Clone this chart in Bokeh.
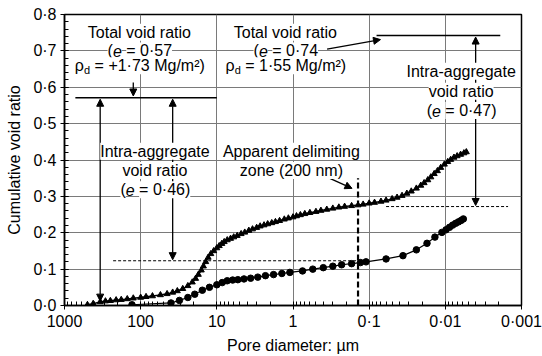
from bokeh.plotting import figure
from bokeh.models import (Range1d, FixedTicker, SingleIntervalTicker, CustomJSTickFormatter,
                          Label, Arrow, NormalHead)
from bokeh.embed import file_html
from bokeh.resources import INLINE

# ---- data: looser sample (triangles, e = 0.74) ----
tri_d = [500, 420, 340, 290, 250, 210, 180, 150, 125, 100, 85, 70, 55, 45, 38, 33, 28, 24, 21, 19,
         17.5, 16, 15, 14, 13, 12, 11, 10, 9.3, 8.6, 8, 7.3, 6.6, 6, 5.4, 4.8, 4.3, 3.8, 3.4, 3.0,
         2.7, 2.4, 2.15, 1.9, 1.7, 1.5, 1.3, 1.15, 1.0, 0.9, 0.8, 0.7, 0.6, 0.5, 0.43, 0.36, 0.3,
         0.25, 0.21, 0.17, 0.14, 0.12, 0.1, 0.085, 0.07, 0.06, 0.05, 0.043, 0.037, 0.032, 0.028,
         0.024, 0.021, 0.019, 0.017, 0.0155, 0.014, 0.0127, 0.0115, 0.0103, 0.0093, 0.0085, 0.0077,
         0.007, 0.0063, 0.0057, 0.0053]
tri_e = [0.002, 0.005, 0.010, 0.012, 0.013, 0.015, 0.016, 0.018, 0.020, 0.022, 0.024, 0.026, 0.029,
         0.032, 0.036, 0.040, 0.046, 0.054, 0.064, 0.074, 0.085, 0.097, 0.108, 0.120, 0.132, 0.142,
         0.150, 0.158, 0.164, 0.170, 0.175, 0.180, 0.184, 0.188, 0.192, 0.197, 0.201, 0.206, 0.210,
         0.214, 0.218, 0.221, 0.224, 0.227, 0.230, 0.233, 0.237, 0.240, 0.243, 0.246, 0.249, 0.252,
         0.255, 0.258, 0.261, 0.264, 0.267, 0.270, 0.272, 0.274, 0.276, 0.278, 0.281, 0.283, 0.286,
         0.289, 0.293, 0.297, 0.302, 0.308, 0.314, 0.322, 0.330, 0.337, 0.345, 0.353, 0.362, 0.370,
         0.379, 0.388, 0.395, 0.401, 0.407, 0.411, 0.415, 0.419, 0.422]

# ---- data: denser sample (circles, e = 0.57) ----
cir_d = [130, 40, 31, 24, 19.5, 15.5, 12.5, 10, 8.5, 7.3, 6.2, 5.3, 4.4, 3.6, 2.9, 2.3, 1.8, 1.4,
         1.1, 0.75, 0.55, 0.40, 0.30, 0.23, 0.17, 0.13, 0.11, 0.06, 0.036, 0.024, 0.0174, 0.0137,
         0.0111, 0.0098, 0.0088, 0.008, 0.0073, 0.0067, 0.0062, 0.0058]
cir_e = [0.002, 0.007, 0.014, 0.022, 0.031, 0.042, 0.050, 0.057, 0.063, 0.068, 0.070, 0.071, 0.073,
         0.075, 0.078, 0.082, 0.085, 0.088, 0.091, 0.095, 0.100, 0.104, 0.108, 0.112, 0.115, 0.118,
         0.120, 0.128, 0.137, 0.153, 0.171, 0.188, 0.201, 0.208, 0.215, 0.221, 0.226, 0.230, 0.234,
         0.238]

x_ticks = [1000, 100, 10, 1, 0.1, 0.01, 0.001]

FONT = "Liberation Sans"

p = figure(width=542, height=356, x_axis_type="log",
           x_range=Range1d(1000, 0.001), y_range=Range1d(0, 0.8),
           output_backend="svg", toolbar_location=None,
           min_border_left=64, min_border_right=21, min_border_top=14, min_border_bottom=51)
p.background_fill_color = "white"
p.border_fill_color = "white"
p.outline_line_color = "black"
p.outline_line_width = 1.5

minor = [m * 10.0 ** k for k in range(-3, 3) for m in range(2, 10)]
p.xaxis.ticker = FixedTicker(ticks=x_ticks, minor_ticks=minor)
p.xaxis.formatter = CustomJSTickFormatter(code="""
const k = Math.round(Math.log10(tick));
if (k >= 0) { return tick.toFixed(0); }
return tick.toFixed(-k).replace('.', '\u00b7');
""")
p.yaxis.ticker = SingleIntervalTicker(interval=0.1, num_minor_ticks=5)
p.yaxis.formatter = CustomJSTickFormatter(code="return tick.toFixed(1).replace('.', '\u00b7');")

for ax in (p.xaxis[0], p.yaxis[0]):
    ax.axis_line_color = "black"
    ax.axis_line_width = 1.5
    ax.major_tick_line_color = "black"
    ax.minor_tick_line_color = "black"
    ax.major_tick_in = 4
    ax.major_tick_out = 4
    ax.minor_tick_in = 4
    ax.minor_tick_out = 0
    ax.major_label_text_font = FONT
    ax.major_label_text_font_size = "16px"
    ax.major_label_text_color = "black"
    ax.axis_label_text_font = FONT
    ax.axis_label_text_font_size = "16px"
    ax.axis_label_text_font_style = "normal"
    ax.axis_label_text_color = "black"

p.xaxis.axis_label = "Pore diameter: \u00b5m"
p.yaxis.axis_label = "Cumulative void ratio"
p.xaxis.major_label_standoff = 3
p.yaxis.major_label_standoff = 4
p.xaxis.axis_label_standoff = 4
p.yaxis.axis_label_standoff = 7

p.grid.grid_line_color = "#7a7a7a"
p.grid.grid_line_width = 1
p.xgrid.ticker = FixedTicker(ticks=x_ticks)

# ---- curves ----
p.line(tri_d, tri_e, line_color="black", line_width=1.5)
p.scatter(tri_d, tri_e, marker="triangle", size=6, fill_color="black", line_color="black")
p.line(cir_d, cir_e, line_color="black", line_width=1.2)
p.scatter(cir_d, cir_e, marker="circle", size=6.5, fill_color="black", line_color="black")

# ---- reference lines ----
p.segment(x0=[720], y0=[0.571], x1=[10], y1=[0.571], line_color="black", line_width=1.5)
p.segment(x0=[0.08], y0=[0.742], x1=[0.0019], y1=[0.742], line_color="black", line_width=1.5)
p.segment(x0=[230], y0=[0.123], x1=[0.14], y1=[0.123], line_color="black", line_width=1,
          line_dash="3 2")
p.segment(x0=[0.06], y0=[0.272], x1=[0.0015], y1=[0.272], line_color="black", line_width=1,
          line_dash="3 2")
p.segment(x0=[0.14], y0=[0.0], x1=[0.14], y1=[0.35], line_color="black", line_width=2.2,
          line_dash="6 3")

def head():
    return NormalHead(size=7, fill_color="black", line_color="black", line_width=1)

arrows = [
    (125, 0.613, 125, 0.576, False),
    (340, 0.012, 340, 0.567, True),
    (38, 0.126, 38, 0.567, True),
    (0.357, 0.705, 0.071, 0.731, False),
    (0.004, 0.275, 0.004, 0.738, True),
    (0.437, 0.361, 0.168, 0.322, False),
]
for xs, ys, xe, ye, both in arrows:
    p.add_layout(Arrow(x_start=xs, y_start=ys, x_end=xe, y_end=ye, end=head(),
                       start=head() if both else None, line_color="black", line_width=1.3))

# ---- text annotations ----
WID = {' ': 278, '(': 333, ')': 333, '=': 584, '+': 584, '\u00b7': 278, 'e': 556, '\u03c1': 578,
       'd': 556, 'M': 833, 'g': 556, '/': 278, 'm': 833, '\u00b2': 333}
def width(t, size):
    return sum(WID.get(c, 556) for c in t) * size / 1000.0

SIZE = 16

def line(x, y, text):
    p.add_layout(Label(x=x, y=y, text=text, text_align="center", text_baseline="alphabetic",
                       text_font=FONT, text_font_size=f"{SIZE}px", text_color="black",
                       background_fill_color="white"))

def segs(x, y, parts):
    total = sum(width(t, s) for t, s, st, dy in parts)
    off = -total / 2.0
    for t, s, st, dy in parts:
        lead = len(t) - len(t.lstrip(" "))
        off += width(" " * lead, s)
        core = t.strip(" ")
        p.add_layout(Label(x=x, y=y, x_offset=off, y_offset=dy, text=core, text_align="left",
                           text_baseline="alphabetic", text_font=FONT,
                           text_font_size=f"{s}px", text_font_style=st, text_color="black",
                           background_fill_color="white"))
        off += width(t.lstrip(" "), s)

def e_line(x, y, rest):
    segs(x, y, [("(", SIZE, "normal", 0), ("e", SIZE, "italic", 0), (rest, SIZE, "normal", 0)])

def rho_line(x, y, rest):
    segs(x, y, [("\u03c1", SIZE, "normal", 0), ("d", 11, "normal", -4), (rest, SIZE, "normal", 0)])

# block A
line(104, 0.751, "Total void ratio")
e_line(104, 0.700, " = 0\u00b757")
rho_line(104, 0.659, " = +1\u00b773 Mg/m\u00b2)")
# block B
line(1.26, 0.751, "Total void ratio")
e_line(1.26, 0.700, " = 0\u00b774")
rho_line(1.26, 0.659, " = 1\u00b755 Mg/m\u00b2)")
# block C
line(65, 0.424, "Intra-aggregate")
line(65, 0.371, "void ratio")
e_line(65, 0.318, " = 0\u00b746)")
# block D
line(1.05, 0.424, "Apparent delimiting")
line(1.05, 0.371, "zone (200 nm)")
# block E
line(0.0062, 0.644, "Intra-aggregate")
line(0.0062, 0.589, "void ratio")
e_line(0.0062, 0.536, " = 0\u00b747)")

open("out.html", "w").write(file_html(p, INLINE))
